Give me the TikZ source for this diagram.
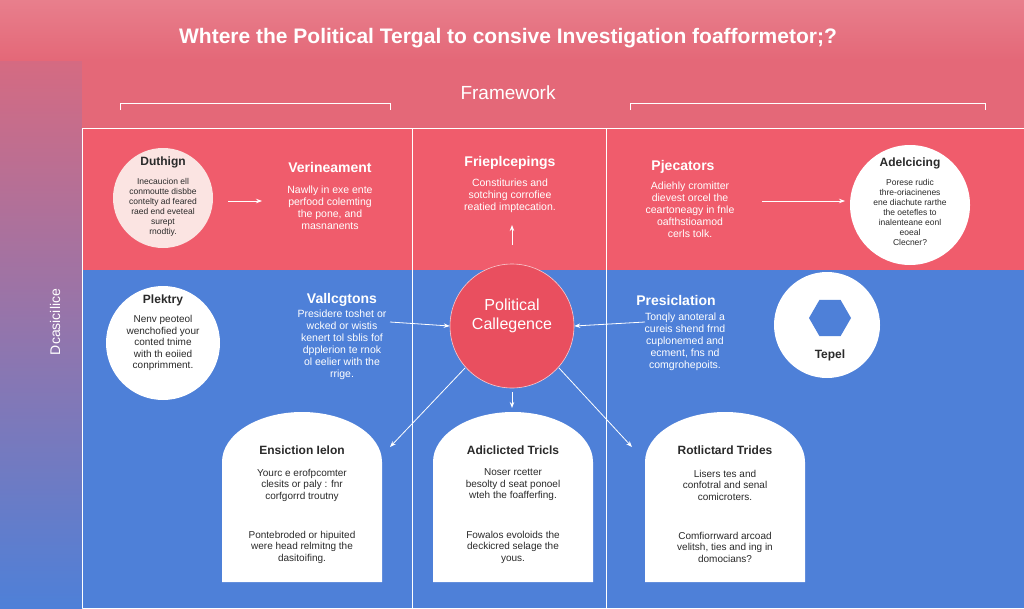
\documentclass[tikz,border=0pt]{standalone}
\usepackage{fontspec}
\setmainfont{Liberation Sans}
\usetikzlibrary{arrows.meta,shapes.geometric}
\definecolor{pinkA}{HTML}{E46878}
\definecolor{pinkB}{HTML}{F05C6C}
\definecolor{blueA}{HTML}{4E80D8}
\definecolor{redC}{HTML}{E94F5F}
\definecolor{circP}{HTML}{FBE4E2}
\definecolor{ink}{HTML}{2A2A2A}
\begin{document}
\begin{tikzpicture}[x=1pt,y=-1pt,
  hd/.style={font=\bfseries\fontsize{14}{16}\selectfont,text=white},
  bd/.style={font=\fontsize{10.5}{12}\selectfont,text=white,align=center},
  hdk/.style={font=\bfseries\fontsize{12}{14}\selectfont,text=ink},
  bdk/.style={font=\fontsize{10}{11.5}\selectfont,text=ink,align=center},
  arr/.style={white,line width=0.8pt,-{Stealth[length=6pt]}},
  card/.style={fill=white,draw=none}]
\useasboundingbox (0,0) rectangle (1024,608);
% backgrounds
\fill[blueA] (0,0) rectangle (1024,608);
\shade[top color=pinkA, bottom color=blueA] (0,0) rectangle (82,608);
\fill[pinkA] (82,0) rectangle (1024,128);
\shade[top color=pinkA!85!white, bottom color=pinkA] (0,0) rectangle (1024,60);
\fill[pinkB] (82,128) rectangle (1024,270);
\draw[white,line width=0.6pt] (82,128) -- (1024,128);
\foreach \x in {82,412,606}{\draw[white,line width=0.6pt] (\x,128) -- (\x,608);}
% title
\node[font=\bfseries\fontsize{21}{24}\selectfont,text=white] (title) at (508,38) {Whtere the Political Tergal to consive Investigation foafformetor;?};
\node[font=\fontsize{19}{22}\selectfont,text=white] (fw) at (508,93) {Framework};
\draw[white,line width=0.7pt] (120,110) -- (120,103) -- (390,103) -- (390,110);
\draw[white,line width=0.7pt] (630,110) -- (630,103) -- (985,103) -- (985,110);
\node[rotate=90,font=\fontsize{14}{16}\selectfont,text=white] (side) at (55,322) {Dcasicilice};
% top row
\node[circle,fill=circP,minimum size=100pt] (c1) at (163,198) {};
\node[hdk] (c1h) at (163,162) {Duthign};
\node[bdk,font=\fontsize{8.5}{10}\selectfont] (c1t) at (163,207) {Inecaucion ell\\conmoutte disbbe\\contelty ad feared\\raed end eveteal\\surept\\rnodtiy.};
\node[hd] (h2) at (330,167) {Verineament};
\node[bd] (t2) at (330,208) {Nawlly in exe ente\\perfood colemting\\the pone, and\\masnanents};
\node[hd] (h3) at (510,163) {Frieplcepings};
\node[bd] (t3) at (510,196) {Constituries and\\sotching corrofiee\\reatied imptecation.};
\node[hd] (h4) at (683,167) {Pjecators};
\node[bd] (t4) at (690,210) {Adiehly cromitter\\dievest orcel the\\ceartoneagy in fnle\\oafthstioamod\\cerls tolk.};
\node[circle,fill=white,minimum size=120pt] (c5) at (910,205) {};
\node[hdk] (c5h) at (910,163) {Adelcicing};
\node[bdk,font=\fontsize{8.5}{10}\selectfont] (c5t) at (910,212) {Porese rudic\\thre-oriacinenes\\ene diachute rarthe\\the oetefles to\\inalenteane eonl\\eoeal\\Clecner?};
\coordinate (a1s) at (228,201); \coordinate (a1e) at (262,201);
\draw[arr] (a1s) -- (a1e);
\coordinate (a3s) at (512,245); \coordinate (a3e) at (512,225);
\draw[arr] (a3s) -- (a3e);
\coordinate (a4s) at (762,201); \coordinate (a4e) at (845,201);
\draw[arr] (a4s) -- (a4e);
% middle row
\node[circle,fill=white,minimum size=114pt] (c6) at (163,343) {};
\node[hdk] (c6h) at (163,300) {Plektry};
\node[bdk] (c6t) at (163,343) {Nenv peoteol\\wenchofied your\\conted tnime\\with th eoiied\\conprimment.};
\node[hd] (h7) at (342,300) {Vallcgtons};
\node[bd] (t7) at (342,345) {Presidere toshet or\\wcked or wistis\\kenert tol sblis fof\\dpplerion te rnok\\ol eelier with the\\rrige.};
\node[circle,fill=redC,minimum size=124pt,draw=white!70!redC,line width=0.6pt] (cc) at (512,326) {};
\node[font=\fontsize{16}{19}\selectfont,text=white,align=center] (cct) at (512,316) {Political\\Callegence};
\coordinate (a7s) at (390,322);
\draw[arr] (a7s) -- (cc.west);
\coordinate (a8s) at (645,322);
\draw[arr] (a8s) -- (cc.east);
\node[hd] (h8) at (676,300) {Presiclation};
\node[bd] (t8) at (685,342) {Tonqly anoteral a\\cureis shend frnd\\cuplonemed and\\ecment, fns nd\\comgrohepoits.};
\node[circle,fill=white,minimum size=106pt] (c9) at (827,325) {};
\node[regular polygon,regular polygon sides=6,fill=blueA,minimum size=42pt] (hex) at (830,318) {};
\node[hdk] (c9h) at (830,355) {Tepel};
% cards
\foreach \cx/\nm in {302/L,513/M,725/R}{
  \fill[card] (\cx-80,582) -- (\cx-80,462) arc[start angle=180,end angle=360,x radius=80,y radius=50] -- (\cx+80,582) -- cycle;
}
\node[hdk] (k1h) at (302,450) {Ensiction Ielon};
\node[bdk] (k1t) at (302,485) {Yourc e erofpcomter\\clesits or paly : fnr\\corfgorrd troutny};
\node[bdk] (k1b) at (302,547) {Pontebroded or hipuited\\were head relmitng the\\dasitoifing.};
\node[hdk] (k2h) at (513,450) {Adiclicted Tricls};
\node[bdk] (k2t) at (513,485) {Noser rcetter\\besolty d seat ponoel\\wteh the foafferfing.};
\node[bdk] (k2b) at (513,547) {Fowalos evoloids the\\deckicred selage the\\yous.};
\node[hdk] (k3h) at (725,450) {Rotlictard Trides};
\node[bdk] (k3t) at (725,485) {Lisers tes and\\confotral and senal\\comicroters.};
\node[bdk] (k3b) at (725,547) {Comfiorrward arcoad\\velitsh, ties and ing in\\domocians?};
\coordinate (d1) at (390,447); \coordinate (d2) at (512,408); \coordinate (d3) at (632,447);
\draw[arr] (465,368) -- (d1);
\draw[arr] (512,392) -- (d2);
\draw[arr] (559,368) -- (d3);
\end{tikzpicture}
\end{document}
